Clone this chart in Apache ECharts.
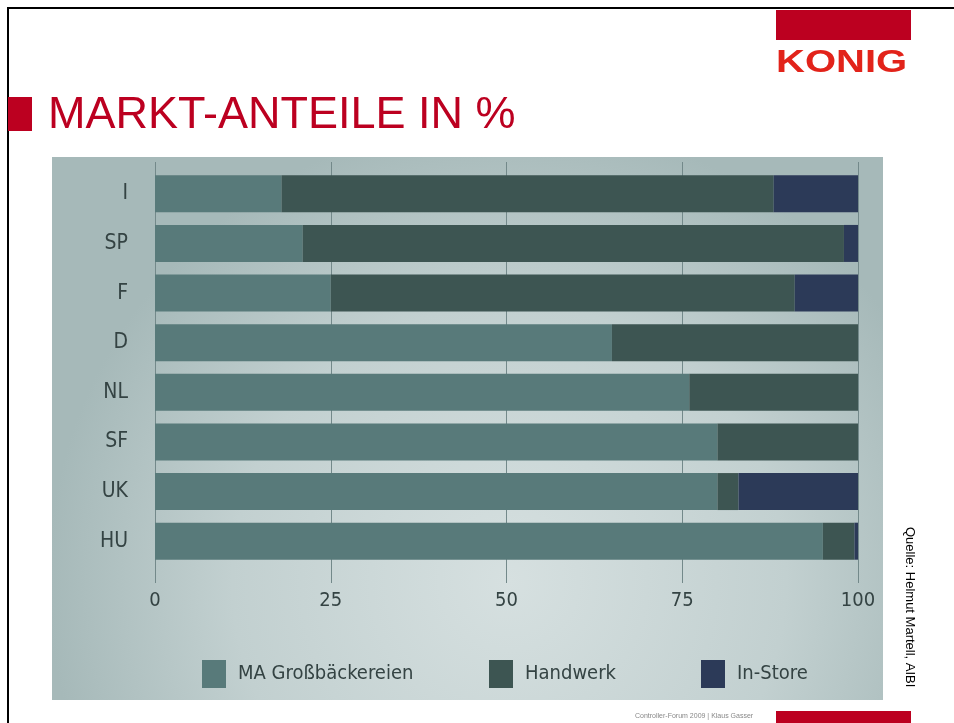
<!DOCTYPE html>
<html>
<head>
<meta charset="utf-8">
<script src="https://cdn.jsdelivr.net/npm/echarts@6/dist/echarts.min.js"></script>
<style>
html,body{margin:0;padding:0;background:#fff;}
#chart{width:954px;height:723px;}
</style>
</head>
<body>
<div id="chart"></div>
<script>
const categories = ['I', 'SP', 'F', 'D', 'NL', 'SF', 'UK', 'HU'];
const maGrossbaeckereien = [18, 21, 25, 65, 76, 80, 80, 95];
const handwerk = [70, 77, 66, 35, 24, 20, 3, 4.5];
const inStore = [12, 2, 9, 0, 0, 0, 17, 0.5];
const seriesNames = ['MA Großbäckereien', 'Handwerk', 'In-Store'];
const seriesColors = ['#587a7a', '#3d5552', '#2c3a58'];
const axisMin = 0, axisMax = 100, axisStep = 25;

const narrow = "'Liberation Sans Narrow', 'DejaVu Sans Condensed', 'Roboto Condensed', sans-serif";
const labelColor = '#344343';

const chart = echarts.init(document.getElementById('chart'));

function legendItem(name, left) {
  return {
    data: [name], left: left, top: 660, padding: 0, itemWidth: 24, itemHeight: 28,
    icon: 'rect',
    textStyle: { fontFamily: narrow, fontSize: 20, color: labelColor, padding: [0, 0, 0, 7] }
  };
}

const option = {
  animation: false,
  backgroundColor: '#ffffff',
  graphic: [
    { type: 'rect', z: -10, shape: { x: 52, y: 157, width: 831, height: 543 },
      style: { fill: { type: 'radial', x: 0.55, y: 0.78, r: 0.85,
        colorStops: [{ offset: 0, color: '#d6e0e0' }, { offset: 0.6, color: '#c2d0d0' }, { offset: 1, color: '#a6b9b9' }] } } },
    { type: 'rect', z: 5, shape: { x: 7, y: 7, width: 947, height: 2 }, style: { fill: '#000' } },
    { type: 'rect', z: 5, shape: { x: 7, y: 7, width: 2, height: 716 }, style: { fill: '#000' } },
    { type: 'rect', z: 5, shape: { x: 776, y: 10, width: 135, height: 30 }, style: { fill: '#bc0020' } },
    { type: 'text', z: 5, left: 776, top: 47, scaleX: 1.25,
      style: { text: 'KONIG', fontFamily: 'Liberation Sans, Arial, sans-serif', fontWeight: 'bold', fontSize: 32, fill: '#e2231a' } },
    { type: 'rect', z: 5, shape: { x: 8, y: 97, width: 24, height: 34 }, style: { fill: '#bc0020' } },
    { type: 'text', z: 5, left: 48, top: 93,
      style: { text: 'MARKT-ANTEILE IN %', fontFamily: 'Liberation Sans, Arial, sans-serif', fontSize: 45, fill: '#bc0020' } },
    { type: 'text', z: 5, x: 903, y: 527, rotation: -Math.PI / 2,
      style: { text: 'Quelle: Helmut Martell, AIBI', fontFamily: 'Liberation Sans, Arial, sans-serif', fontSize: 13, fill: '#000', textVerticalAlign: 'bottom' } },
    { type: 'text', z: 5, left: 635, top: 713,
      style: { text: 'Controller-Forum 2009 | Klaus Gasser', fontFamily: 'Liberation Sans, Arial, sans-serif', fontSize: 7, fill: '#888' } },
    { type: 'rect', z: 5, shape: { x: 776, y: 711, width: 135, height: 12 }, style: { fill: '#bc0020' } }
  ],
  legend: [
    legendItem(seriesNames[0], 202),
    legendItem(seriesNames[1], 489),
    legendItem(seriesNames[2], 701)
  ],
  grid: [
    { left: 155, right: 96, top: 169, bottom: 157 },
    { left: 155, right: 96, top: 162, bottom: 140 }
  ],
  xAxis: [
    { gridIndex: 0, type: 'value', min: axisMin, max: axisMax, interval: axisStep, show: false },
    { gridIndex: 1, type: 'value', min: axisMin, max: axisMax, interval: axisStep,
      axisLine: { show: false }, axisTick: { show: false },
      splitLine: { show: true, lineStyle: { color: '#73898a', width: 1 } },
      axisLabel: { margin: 8, fontFamily: narrow, fontSize: 20, color: labelColor } }
  ],
  yAxis: [
    { gridIndex: 0, type: 'category', data: categories, inverse: true,
      axisLine: { show: false }, axisTick: { show: false },
      axisLabel: { margin: 27, fontFamily: narrow, fontSize: 21, color: labelColor } },
    { gridIndex: 1, type: 'value', show: false }
  ],
  series: [
    { name: seriesNames[0], type: 'bar', stack: 'total', xAxisIndex: 0, yAxisIndex: 0, barWidth: 37,
      itemStyle: { color: seriesColors[0] }, data: maGrossbaeckereien },
    { name: seriesNames[1], type: 'bar', stack: 'total', xAxisIndex: 0, yAxisIndex: 0, barWidth: 37,
      itemStyle: { color: seriesColors[1] }, data: handwerk },
    { name: seriesNames[2], type: 'bar', stack: 'total', xAxisIndex: 0, yAxisIndex: 0, barWidth: 37,
      itemStyle: { color: seriesColors[2] }, data: inStore }
  ]
};
chart.setOption(option);
</script>
</body>
</html>
